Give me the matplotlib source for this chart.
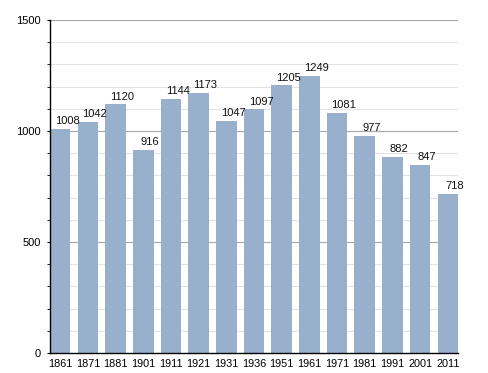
import matplotlib
matplotlib.use("Agg")
import matplotlib.pyplot as plt
import numpy as np

years = ["1861", "1871", "1881", "1901", "1911", "1921", "1931",
         "1936", "1951", "1961", "1971", "1981", "1991", "2001", "2011"]
population = [1008, 1042, 1120, 916, 1144, 1173, 1047,
              1097, 1205, 1249, 1081, 977, 882, 847, 718]

plt.rcParams["font.family"] = ["Liberation Sans", "DejaVu Sans"]

fig = plt.figure(figsize=(4.88, 3.73), dpi=100)
ax = fig.add_axes([50 / 488, 1 - 353 / 373, 408 / 488, 333 / 373])

x = np.arange(len(years))
ax.bar(x, population, width=0.74, color="#98b0cc", zorder=2)

for xi, v in zip(x, population):
    ax.annotate(str(v), (xi, v), xytext=(5, 2), textcoords="offset points",
                ha="center", va="bottom", fontsize=8, color="#111111")

ax.set_xlim(-0.37, len(years) - 0.63)
ax.set_ylim(0, 1500)

# light grid every 100, darker every 500
for yv in range(100, 1500, 100):
    ax.axhline(yv, color="#e2e2e2", lw=0.8, zorder=1)
for yv in (500, 1000, 1500):
    ax.axhline(yv, color="#a8a8a8", lw=0.8, zorder=1)

ax.set_yticks([0, 500, 1000, 1500])
ax.set_yticks(range(0, 1501, 100), minor=True)
ax.tick_params(axis="y", which="both", length=2.5, labelsize=8, pad=4)
ax.set_xticks(x)
ax.set_xticklabels(years, fontsize=7.8)
ax.tick_params(axis="x", length=0, pad=4)

for s in ("top", "right"):
    ax.spines[s].set_visible(False)
ax.spines["left"].set_linewidth(1)
ax.spines["bottom"].set_linewidth(1)

fig.savefig("out.png", dpi=100)
